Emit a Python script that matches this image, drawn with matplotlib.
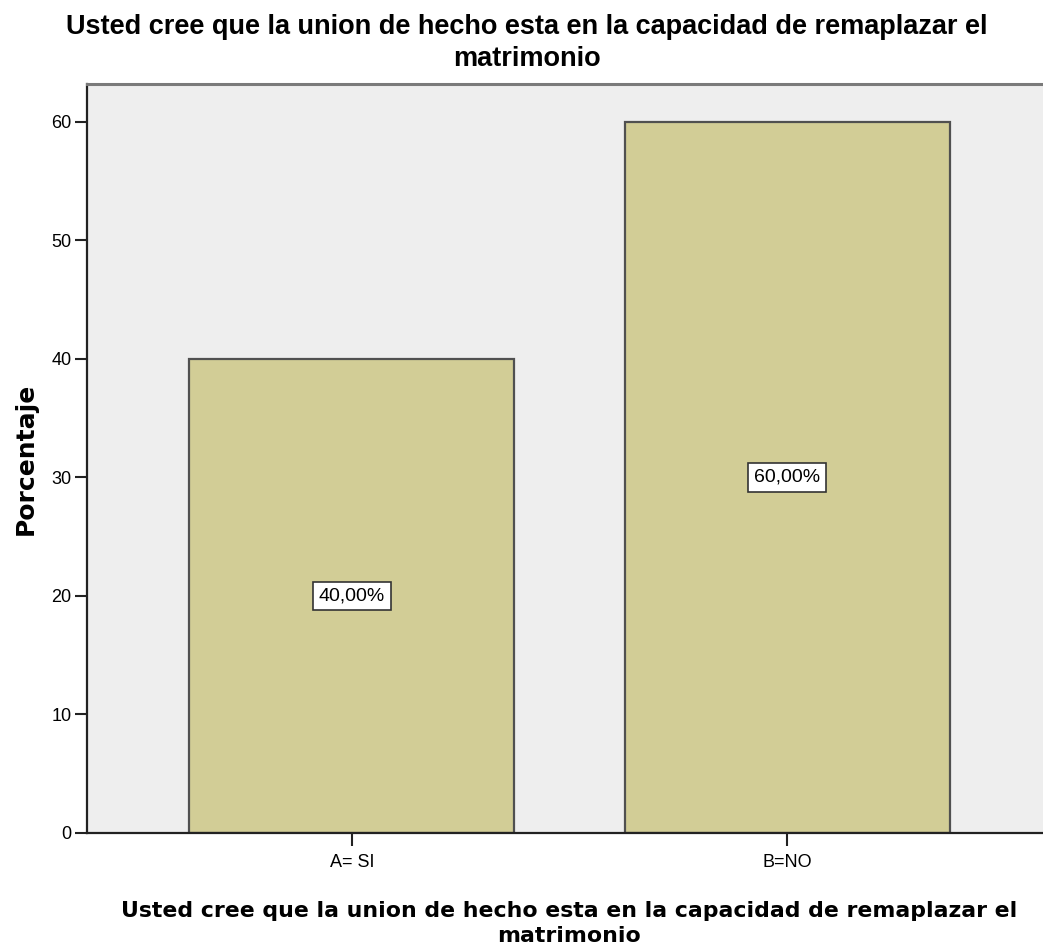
import numpy as np
import matplotlib
matplotlib.use('Agg')
import matplotlib.pyplot as plt

plt.rcParams['font.family'] = ['Liberation Sans', 'DejaVu Sans']

# Data
categories = ['A= SI', 'B=NO']
percentages = [40.0, 60.0]
yticks = [0, 10, 20, 30, 40, 50, 60]
title_text = 'Usted cree que la union de hecho esta en la capacidad de remaplazar el\nmatrimonio'

fig = plt.figure(figsize=(10.43, 9.5), dpi=100)
ax = fig.add_axes([0.0834, 0.1232, 0.9252, 0.7884])
ax.set_facecolor('#EEEEEE')

x = np.arange(len(categories))
ax.bar(x, percentages, width=0.747, color='#D2CD96', edgecolor='#505050', linewidth=1.6, zorder=2)

# value boxes at half height
for xi, v in zip(x, percentages):
    ax.text(xi, v / 2, f'{v:.2f}%'.replace('.', ','), ha='center', va='center', fontsize=14,
            bbox=dict(boxstyle='square,pad=0.3', facecolor='white', edgecolor='#333333', linewidth=1.2),
            zorder=3)

ax.set_xlim(-0.609, 1.609)
ax.set_ylim(0, 63.2)
ax.set_xticks(x)
ax.set_xticklabels(categories)
ax.set_yticks(yticks)
ax.tick_params(axis='both', direction='out', length=9, width=1.5, color='#222222', labelsize=13)
ax.tick_params(axis='x', pad=6)
ax.tick_params(axis='y', pad=2)

for side in ['left', 'bottom']:
    ax.spines[side].set_color('#222222')
    ax.spines[side].set_linewidth(1.6)
ax.spines['top'].set_color('#7A7A7A')
ax.spines['top'].set_linewidth(2.2)
ax.spines['right'].set_visible(False)

ax.set_ylabel('Porcentaje', fontsize=18, fontweight='bold', family='DejaVu Sans')
ax.yaxis.set_label_coords(-0.051, 0.5)
ax.set_xlabel(title_text, fontsize=15.8, fontweight='bold', family='DejaVu Sans',
              linespacing=1.3, labelpad=22)

fig.text(0.505, 0.985, title_text, ha='center', va='top', fontsize=19.5, fontweight='bold', linespacing=1.3)

fig.savefig('out.png', dpi=100)
